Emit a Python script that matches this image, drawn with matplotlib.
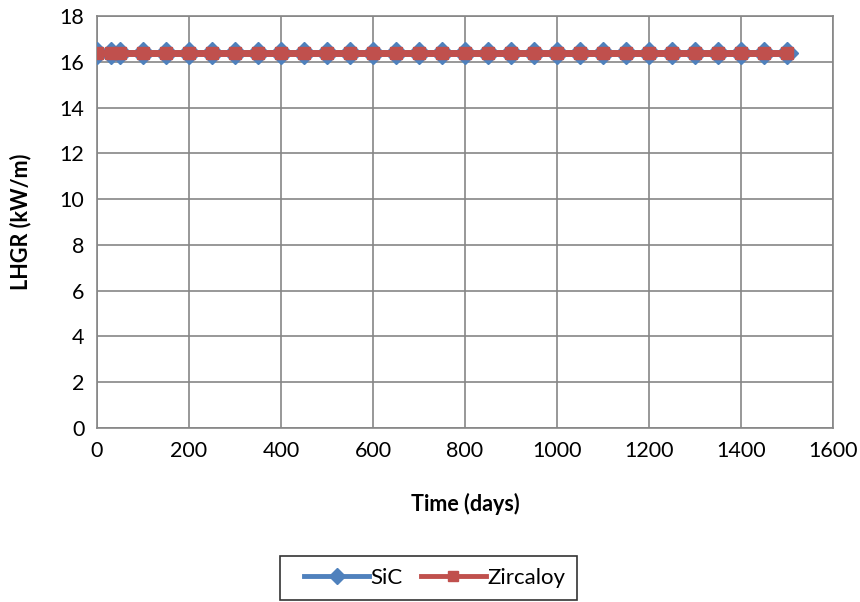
import matplotlib
matplotlib.use("Agg")
import matplotlib.pyplot as plt
from matplotlib.lines import Line2D
from matplotlib.legend_handler import HandlerLine2D

# data
days = [0, 30, 50] + list(range(100, 1501, 50))
sic_lhgr = [16.4] * len(days)
zirc_lhgr = [16.4] * len(days)

plt.rcParams['font.family'] = ['Lato', 'DejaVu Sans']

fig = plt.figure(figsize=(8.6, 6.02), dpi=100)
ax = fig.add_axes([0.1128, 0.289, 0.9686 - 0.1128, 0.9734 - 0.289])

ax.plot(days, sic_lhgr, color="#4F81BD", lw=4, marker="D", ms=11.5,
        mec="#4F81BD", label="SiC", zorder=3)
ax.plot(days, zirc_lhgr, color="#C0504D", lw=5, marker="s", ms=9,
        mec="#C0504D", label="Zircaloy", zorder=4)

ax.set_xlim(0, 1600)
ax.set_ylim(0, 18)
ax.set_xticks(range(0, 1601, 200))
ax.set_yticks(range(0, 19, 2))
ax.grid(True, color="#868686", lw=1.2)
ax.set_axisbelow(True)
for s in ax.spines.values():
    s.set_color("#868686")
    s.set_linewidth(1.2)
ax.tick_params(length=0, labelsize=15.5, pad=9)
ax.set_xlabel("Time (days)", fontsize=15.5, fontweight="bold", labelpad=23)
ax.set_ylabel("LHGR (kW/m)", fontsize=15.5, fontweight="bold", labelpad=20)

# legend entries in Excel style: thinner lines, smaller markers
h_sic = Line2D([], [], color="#4F81BD", lw=3.5, marker="D", ms=8.5)
h_zirc = Line2D([], [], color="#C0504D", lw=3.5, marker="s", ms=7)
leg = fig.legend([h_sic, h_zirc], ["SiC", "Zircaloy"], loc="center",
                 bbox_to_anchor=(0.4985, 0.0399), ncol=2, frameon=True,
                 fontsize=16, fancybox=False, handlelength=3.45,
                 columnspacing=0.3, handletextpad=0.05, borderpad=0.54,
                 handler_map={Line2D: HandlerLine2D(xpad=0.52)})
leg.get_frame().set_edgecolor("black")
leg.get_frame().set_linewidth(1.2)

fig.savefig("out.png", dpi=100)
